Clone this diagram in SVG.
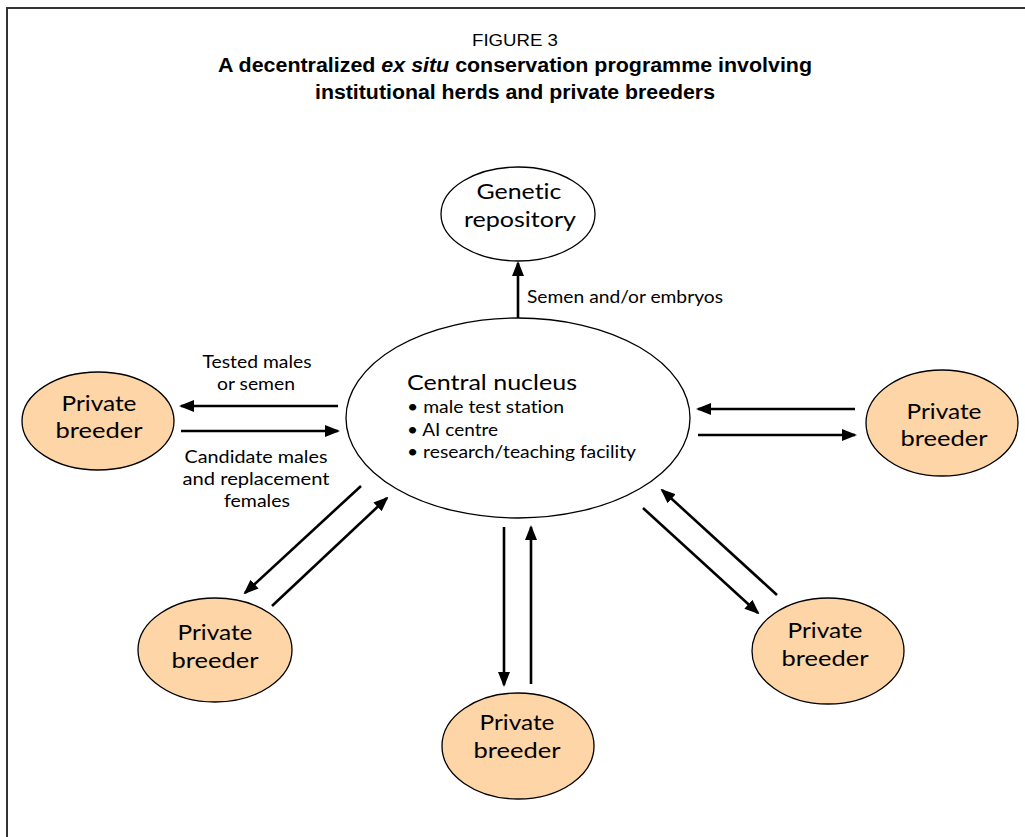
<svg xmlns="http://www.w3.org/2000/svg" width="1025" height="837" viewBox="0 0 1025 837">
<defs>
<marker id="ah" markerWidth="15" markerHeight="12" refX="13" refY="6" orient="auto" markerUnits="userSpaceOnUse">
<path d="M0,0 L15,6 L0,12 Z" fill="#000"/>
</marker>
<style>
.frame{fill:none;stroke:#333;stroke-width:2}
.node{stroke:#000;stroke-width:1.3}
.white{fill:#fff}
.peach{fill:#FDD5A6}
.conn{stroke:#000;stroke-width:2.6;fill:none;marker-end:url(#ah)}
text{font-family:Lato,"Noto Sans","Liberation Sans",sans-serif;fill:#000;font-variant-ligatures:none;font-feature-settings:"liga" 0,"dlig" 0}
.big{font-size:22px;text-anchor:middle}
.pb{font-size:22px;text-anchor:middle}
.lbl{font-size:17.5px;text-anchor:middle}
.bul{font-size:17.5px}
.title{font-family:"Liberation Sans",sans-serif;text-anchor:middle}
</style>
</defs>
<rect width="1025" height="837" fill="#fff"/>
<path class="frame" d="M1025,8 L7,8 L7,837"/>
<g id="title">
<text class="title" x="515" y="46" font-size="17" textLength="86" lengthAdjust="spacingAndGlyphs">FIGURE 3</text>
<text class="title" x="515" y="72" font-size="20" font-weight="bold" textLength="594" lengthAdjust="spacingAndGlyphs">A decentralized <tspan font-style="italic">ex situ</tspan> conservation programme involving</text>
<text class="title" x="515" y="99" font-size="20" font-weight="bold" textLength="400" lengthAdjust="spacingAndGlyphs">institutional herds and private breeders</text>
</g>
<g id="connectors">
<line class="conn" x1="518" y1="318" x2="518" y2="263"/>
<line class="conn" x1="338" y1="406" x2="181" y2="406"/>
<line class="conn" x1="181" y1="431" x2="338" y2="431"/>
<line class="conn" x1="855" y1="409" x2="698" y2="409"/>
<line class="conn" x1="698" y1="435" x2="855" y2="435"/>
<line class="conn" x1="361" y1="486" x2="245" y2="593"/>
<line class="conn" x1="272" y1="606" x2="387" y2="498"/>
<line class="conn" x1="504" y1="527" x2="504" y2="685"/>
<line class="conn" x1="531" y1="684" x2="531" y2="527"/>
<line class="conn" x1="643" y1="508" x2="758" y2="613"/>
<line class="conn" x1="777" y1="595" x2="662" y2="490"/>
</g>
<g id="labels">
<text class="bul" x="527" y="303" textLength="196" lengthAdjust="spacingAndGlyphs">Semen and/or embryos</text>
<text class="lbl" x="257" y="368" textLength="109" lengthAdjust="spacingAndGlyphs">Tested males</text>
<text class="lbl" x="256" y="390" textLength="78" lengthAdjust="spacingAndGlyphs">or semen</text>
<text class="lbl" x="256" y="463" textLength="143" lengthAdjust="spacingAndGlyphs">Candidate males</text>
<text class="lbl" x="256" y="485" textLength="147" lengthAdjust="spacingAndGlyphs">and replacement</text>
<text class="lbl" x="257" y="507" textLength="66" lengthAdjust="spacingAndGlyphs">females</text>
</g>
<g id="genetic-repository">
<ellipse class="node white" cx="518" cy="214" rx="77" ry="47"/>
<text class="big" x="519" y="199" textLength="85" lengthAdjust="spacingAndGlyphs">Genetic</text>
<text class="big" x="520" y="227" textLength="112" lengthAdjust="spacingAndGlyphs">repository</text>
</g>
<g id="central-nucleus">
<ellipse class="node white" cx="518" cy="418" rx="172" ry="100"/>
<text x="407" y="390" font-size="20.5" textLength="170" lengthAdjust="spacingAndGlyphs">Central nucleus</text>
<text class="bul" x="407" y="413" textLength="157" lengthAdjust="spacingAndGlyphs">• male test station</text>
<text class="bul" x="407" y="436" textLength="91" lengthAdjust="spacingAndGlyphs">• AI centre</text>
<text class="bul" x="407" y="458" textLength="229" lengthAdjust="spacingAndGlyphs">• research/teaching facility</text>
</g>
<g id="breeder-left">
<ellipse class="node peach" cx="98" cy="421" rx="76" ry="49"/>
<text class="pb" x="99" y="411" textLength="75" lengthAdjust="spacingAndGlyphs">Private</text>
<text class="pb" x="99" y="438" textLength="87" lengthAdjust="spacingAndGlyphs">breeder</text>
</g>
<g id="breeder-right">
<ellipse class="node peach" cx="942" cy="423" rx="76" ry="53"/>
<text class="pb" x="944" y="419" textLength="75" lengthAdjust="spacingAndGlyphs">Private</text>
<text class="pb" x="944" y="446" textLength="87" lengthAdjust="spacingAndGlyphs">breeder</text>
</g>
<g id="breeder-bottom-left">
<ellipse class="node peach" cx="215" cy="650" rx="77" ry="52"/>
<text class="pb" x="215" y="640" textLength="75" lengthAdjust="spacingAndGlyphs">Private</text>
<text class="pb" x="215" y="668" textLength="87" lengthAdjust="spacingAndGlyphs">breeder</text>
</g>
<g id="breeder-bottom">
<ellipse class="node peach" cx="518" cy="746" rx="76" ry="53"/>
<text class="pb" x="517" y="730" textLength="75" lengthAdjust="spacingAndGlyphs">Private</text>
<text class="pb" x="517" y="758" textLength="87" lengthAdjust="spacingAndGlyphs">breeder</text>
</g>
<g id="breeder-bottom-right">
<ellipse class="node peach" cx="828" cy="651" rx="76" ry="53"/>
<text class="pb" x="825" y="638" textLength="75" lengthAdjust="spacingAndGlyphs">Private</text>
<text class="pb" x="825" y="666" textLength="87" lengthAdjust="spacingAndGlyphs">breeder</text>
</g>
</svg>
